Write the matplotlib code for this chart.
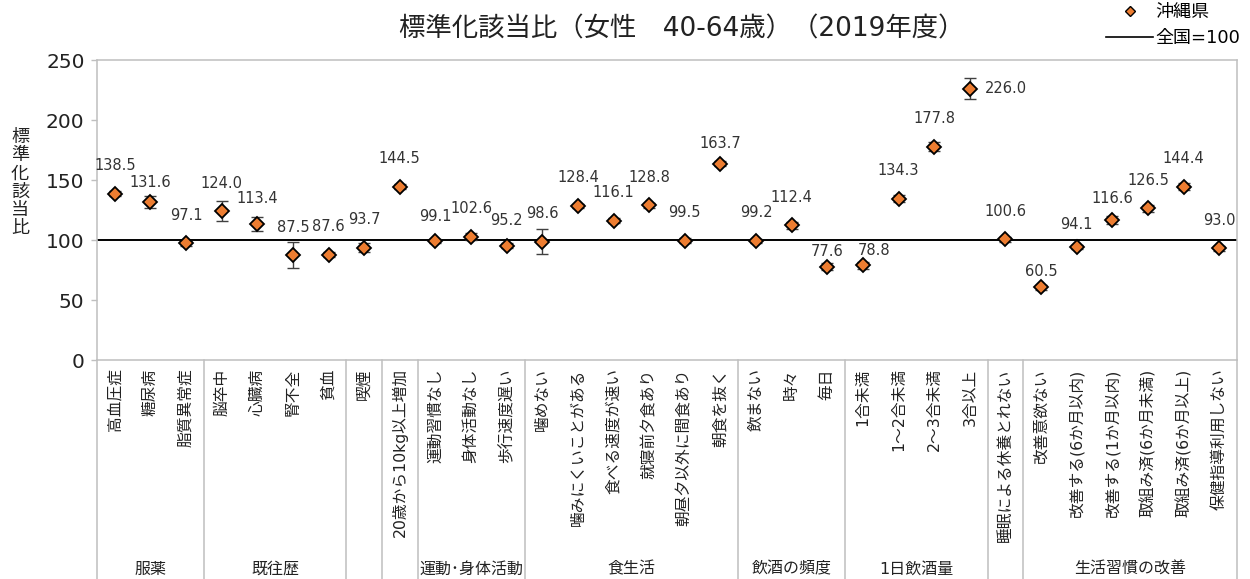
import matplotlib
matplotlib.use('Agg')
import matplotlib.pyplot as plt
from matplotlib.lines import Line2D
import numpy as np

# 数字は DejaVu、漢字・かなは Noto CJK
plt.rcParams['font.family'] = ['DejaVu Sans', 'Noto Sans CJK JP']

# データ
categories = ['高血圧症', '糖尿病', '脂質異常症',
              '脳卒中', '心臓病', '腎不全', '貧血',
              '喫煙',
              '20歳から10kg以上増加',
              '運動習慣なし', '身体活動なし', '歩行速度遅い',
              '噛めない', '噛みにくいことがある', '食べる速度が速い', '就寝前夕食あり',
              '朝昼夕以外に間食あり', '朝食を抜く',
              '飲まない', '時々', '毎日',
              '1合未満', '1～2合未満', '2～3合未満', '3合以上',
              '睡眠による休養とれない',
              '改善意欲ない', '改善する(6か月以内)', '改善する(1か月以内)',
              '取組み済(6か月未満)', '取組み済(6か月以上)', '保健指導利用しない']
values = [138.5, 131.6, 97.1,
          124.0, 113.4, 87.5, 87.6,
          93.7,
          144.5,
          99.1, 102.6, 95.2,
          98.6, 128.4, 116.1, 128.8, 99.5, 163.7,
          99.2, 112.4, 77.6,
          78.8, 134.3, 177.8, 226.0,
          100.6,
          60.5, 94.1, 116.6, 126.5, 144.4, 93.0]
errors = [2, 5, 2,
          8.5, 6, 10.5, 2,
          4,
          2,
          2, 3, 2,
          10.4, 2, 2, 2, 2, 2,
          2, 3, 3,
          3, 3, 4, 8.7,
          2,
          2, 2, 3, 3, 3, 2]
groups = ['服薬', '既往歴', '', '', '運動･身体活動', '食生活',
          '飲酒の頻度', '1日飲酒量', '', '生活習慣の改善']
group_sizes = [3, 4, 1, 1, 3, 6, 3, 4, 1, 6]
national = 100
ylabel = '標準化該当比'

# ラベル位置の微調整（px）
label_dy = {1: 20, 4: 25, 9: 25, 11: 25, 17: 20, 20: 15, 21: 15, 26: 16, 27: 23, 28: 22}
label_dx = {21: 11}

fig = plt.figure(figsize=(12.5, 5.79), dpi=100)
ax = fig.add_axes([97 / 1250, 1 - 360 / 579, 1140 / 1250, 300 / 579])

x = np.arange(len(categories))
gray = '#BFBFBF'
txt = '#222222'

ax.axhline(national, color='black', lw=1.4, zorder=1)
ax.errorbar(x, values, yerr=errors, fmt='none', ecolor='#404040',
            elinewidth=1.0, capsize=4.3, capthick=1.0, zorder=2)
ax.plot(x, values, 'D', ms=7.6, mfc='#ED7D31', mec='black', mew=1.3,
        ls='none', zorder=3)

for i, v in enumerate(values):
    if i == 24:
        ax.annotate(f'{v:.1f}', (i, v), xytext=(15 * 0.72, 0),
                    textcoords='offset points', ha='left', va='center',
                    fontsize=10.5, color='#333333')
    else:
        dy = label_dy.get(i, 28) * 0.72
        dx = label_dx.get(i, 0) * 0.72
        ax.annotate(f'{v:.1f}', (i, v), xytext=(dx, dy),
                    textcoords='offset points', ha='center', va='center',
                    fontsize=10.5, color='#333333')

ax.set_xlim(-0.5, len(categories) - 0.5)
ax.set_ylim(0, 250)
ax.set_yticks(np.arange(0, 251, 50))
ax.tick_params(axis='y', labelsize=14.5, length=4, color=gray, width=1.0,
               pad=5, labelcolor=txt)
ax.set_xticks(x)
ax.set_xticklabels(categories, rotation=90, fontsize=11.3, color=txt)
ax.tick_params(axis='x', length=0, pad=6)
for s in ax.spines.values():
    s.set_color(gray)
    s.set_linewidth(1.1)

# グループの区切りとラベル
bounds = np.concatenate([[0], np.cumsum(group_sizes)]) - 0.5
tr = ax.get_xaxis_transform()
for b in bounds:
    ax.plot([b, b], [0, -0.74], color=gray, lw=1.1, transform=tr, clip_on=False)
for g, a, b in zip(groups, bounds[:-1], bounds[1:]):
    if g:
        ax.text((a + b) / 2, -0.697, g, transform=tr, ha='center', va='center',
                fontsize=11.5, color=txt)

fig.text(682 / 1250, 1 - 29 / 579, '標準化該当比（女性\u300040-64歳）（2019年度）',
         ha='center', va='center', fontsize=19, color=txt)
# 縦書きの軸ラベル（1文字ずつ）
for k, ch in enumerate(ylabel):
    fig.text(20 / 1250, 1 - (137 + 18.2 * k) / 579, ch, ha='center', va='center',
             fontsize=13, color=txt, family='Noto Sans CJK JP')

handles = [Line2D([], [], marker='D', ls='none', ms=5, mfc='#ED7D31', mec='black', mew=1.0),
           Line2D([], [], color='black', lw=1.2)]
fig.legend(handles, ['沖縄県', '全国=100'], loc='upper right',
           bbox_to_anchor=(1240 / 1250, 1 - 3 / 579), frameon=False, fontsize=13,
           handlelength=2.6, handletextpad=0.1, labelspacing=0.45,
           borderpad=0, borderaxespad=0)

fig.savefig('out.png', dpi=100)
